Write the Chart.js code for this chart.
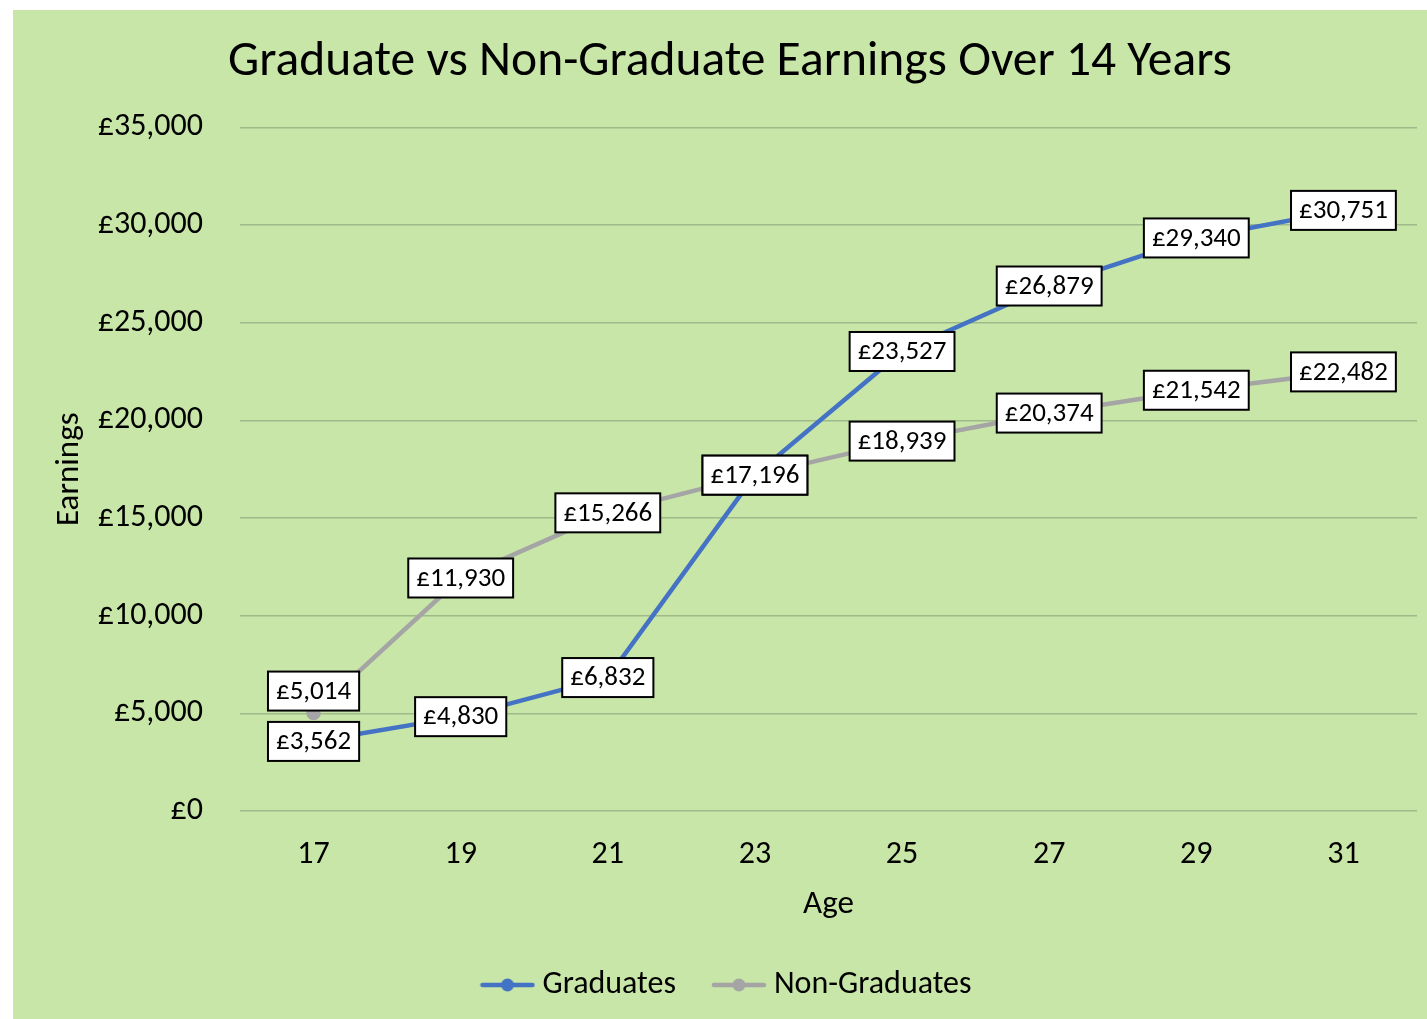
<!DOCTYPE html>
<html>
<head>
<meta charset="utf-8">
<script src="https://cdn.jsdelivr.net/npm/chart.js@4.4.0/dist/chart.umd.min.js"></script>
<style>
  html, body { margin: 0; padding: 0; background: #ffffff; }
  #wrap { position: absolute; left: 13px; top: 10px; width: 1414px; height: 1009px; background: #C8E6A8; }
</style>
</head>
<body>
<div id="wrap"><canvas id="grafico"></canvas></div>
<script>
// dados do gráfico
const idades = ['17', '19', '21', '23', '25', '27', '29', '31'];
const graduados = [3562, 4830, 6832, 17196, 23527, 26879, 29340, 30751];
const naoGraduados = [5014, 11930, 15266, 17196, 18939, 20374, 21542, 22482];
const ticksY = [0, 5000, 10000, 15000, 20000, 25000, 30000, 35000];

const fonte = 'Carlito, Lato, "Open Sans", sans-serif';
const corAzul = '#4472C4';
const corCinza = '#A5A5A5';

// deslocamento vertical dos rótulos (só o primeiro cinza foi puxado pra cima)
const deslocRotulos = [
  [0, 0, 0, 0, 0, 0, 0, 0],
  [-22, 0, 0, 0, 0, 0, 0, 0]
];

function libra(v) {
  return '£' + v.toLocaleString('en-GB');
}

// ícone da legenda: linha com bolinha
function iconeLegenda(cor) {
  const c = document.createElement('canvas');
  c.width = 56;
  c.height = 14;
  const ctx = c.getContext('2d');
  ctx.strokeStyle = cor;
  ctx.lineWidth = 4.5;
  ctx.lineCap = 'round';
  ctx.beginPath();
  ctx.moveTo(3, 7);
  ctx.lineTo(53, 7);
  ctx.stroke();
  ctx.fillStyle = cor;
  ctx.beginPath();
  ctx.arc(28, 7, 6.5, 0, Math.PI * 2);
  ctx.fill();
  return c;
}

// rótulos com caixa branca
const rotulos = {
  id: 'rotulos',
  afterDatasetsDraw(chart) {
    const ctx = chart.ctx;
    ctx.save();
    ctx.font = '27px ' + fonte;
    ctx.textAlign = 'center';
    ctx.textBaseline = 'middle';
    chart.data.datasets.forEach((ds, i) => {
      const meta = chart.getDatasetMeta(i);
      meta.data.forEach((pt, j) => {
        const txt = libra(ds.data[j]);
        const w = ctx.measureText(txt).width + 16;
        const h = 39;
        const x = pt.x;
        const y = pt.y + deslocRotulos[i][j];
        ctx.fillStyle = '#ffffff';
        ctx.fillRect(x - w / 2, y - h / 2, w, h);
        ctx.strokeStyle = '#000000';
        ctx.lineWidth = 2;
        ctx.strokeRect(x - w / 2, y - h / 2, w, h);
        ctx.fillStyle = '#000000';
        ctx.fillText(txt, x, y + 1);
      });
    });
    ctx.restore();
  }
};

new Chart(document.getElementById('grafico'), {
  type: 'line',
  data: {
    labels: idades,
    datasets: [
      {
        label: 'Graduates',
        data: graduados,
        borderColor: corAzul,
        backgroundColor: corAzul,
        borderWidth: 4.5,
        pointRadius: 5,
        tension: 0
      },
      {
        label: 'Non-Graduates',
        data: naoGraduados,
        borderColor: corCinza,
        backgroundColor: corCinza,
        borderWidth: 4.5,
        pointRadius: 5,
        tension: 0
      }
    ]
  },
  options: {
    responsive: true,
    maintainAspectRatio: false,
    animation: false,
    layout: { padding: { left: 30, right: 10, top: 0, bottom: 8 } },
    plugins: {
      title: {
        display: true,
        text: 'Graduate vs Non-Graduate Earnings Over 14 Years',
        color: '#000000',
        font: { family: fonte, size: 49.5, weight: 'normal' },
        padding: { top: 23, bottom: 35 }
      },
      legend: {
        position: 'bottom',
        labels: {
          usePointStyle: true,
          pointStyleWidth: 38,
          color: '#000000',
          font: { family: fonte, size: 32 },
          padding: 44,
          generateLabels(chart) {
            return chart.data.datasets.map((ds, i) => ({
              text: ds.label,
              fontColor: '#000000',
              pointStyle: iconeLegenda(ds.borderColor),
              datasetIndex: i,
              hidden: false,
              lineWidth: 0
            }));
          }
        }
      },
      tooltip: { enabled: false }
    },
    scales: {
      x: {
        offset: true,
        afterFit(scale) { scale.height = 114; },
        grid: { display: false, drawTicks: false },
        border: { display: false },
        ticks: {
          color: '#000000',
          font: { family: fonte, size: 32 },
          padding: 25
        },
        title: {
          display: true,
          text: 'Age',
          color: '#000000',
          font: { family: fonte, size: 33 },
          padding: { top: 0, bottom: 0 }
        }
      },
      y: {
        min: 0,
        max: 35000,
        afterFit(scale) { scale.width = 197; },
        afterBuildTicks(scale) { scale.ticks = ticksY.map(v => ({ value: v })); },
        grid: { color: '#A0B98A', lineWidth: 1.5, drawTicks: false },
        border: { display: false },
        ticks: {
          color: '#000000',
          font: { family: fonte, size: 32 },
          padding: 37,
          callback: (v) => libra(v)
        },
        title: {
          display: true,
          text: 'Earnings',
          color: '#000000',
          font: { family: fonte, size: 33 },
          padding: { top: 7, bottom: 0 }
        }
      }
    }
  },
  plugins: [rotulos]
});
</script>
</body>
</html>
